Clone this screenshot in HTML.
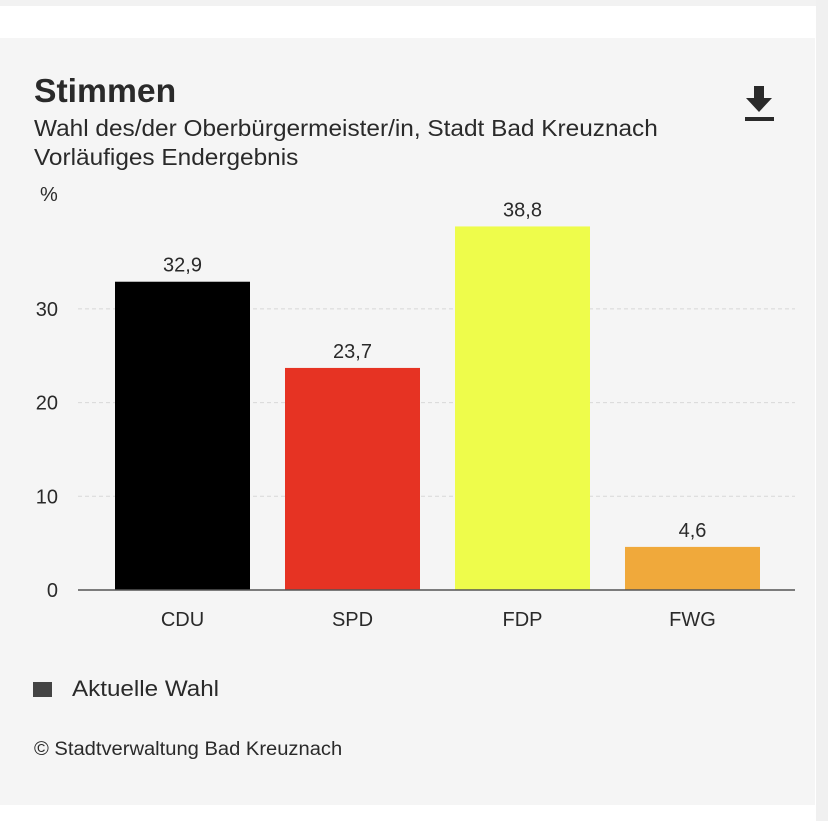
<!DOCTYPE html>
<html><head><meta charset="utf-8"><style>
body{margin:0;width:828px;height:821px;background:#fff;font-family:"Liberation Sans",sans-serif;position:relative;overflow:hidden;color:#222}
.abs{position:absolute;white-space:nowrap}
</style></head><body>
<div class="abs" style="left:0;top:0;width:828px;height:6px;background:#f2f2f2"></div>
<div class="abs" style="left:816px;top:0;width:12px;height:821px;background:#f0f0f0"></div>
<div class="abs" style="left:0;top:38px;width:815px;height:767px;background:#f5f5f5"></div>
<div class="abs" style="left:34px;top:72px;font-size:33px;font-weight:bold;color:#2a2a2a;transform:scaleX(1.02);transform-origin:left">Stimmen</div>
<div class="abs" style="left:34px;top:114px;font-size:23px;color:#2a2a2a;transform:scaleX(1.06);transform-origin:left;line-height:29px">Wahl des/der Oberbürgermeister/in, Stadt Bad Kreuznach<br>Vorläufiges Endergebnis</div>
<svg class="abs" style="left:744px;top:86px" width="32" height="36"><path d="M10 0h10v12h8l-13 14L2 12h8z" fill="#2a2a2a"/><rect x="1" y="31" width="29" height="4" fill="#2a2a2a"/></svg>
<svg id="chart" class="abs" style="left:0;top:0" width="815" height="660"></svg>
<div class="abs" style="left:33px;top:682px;width:19px;height:15px;background:#444"></div>
<div class="abs" style="left:72px;top:676px;font-size:22px;color:#2a2a2a;transform:scaleX(1.1);transform-origin:left">Aktuelle Wahl</div>
<div class="abs" style="left:34px;top:739px;font-size:19px;color:#2a2a2a;transform:scaleX(1.06);transform-origin:left">© Stadtverwaltung Bad Kreuznach</div>
<script>
const categories=["CDU","SPD","FDP","FWG"];
const values=[32.9,23.7,38.8,4.6];
const labels=["32,9","23,7","38,8","4,6"];
const colors=["#000000","#e63323","#eefc4b","#f0a93b"];
const ticks=[0,10,20,30];
const svg=document.getElementById('chart');const NS="http://www.w3.org/2000/svg";
const y0=590,pxPer=9.37;const y=v=>y0-v*pxPer;
const x=i=>115+i*170;const bw=135;
function mk(t,a){const e=document.createElementNS(NS,t);for(const k in a)e.setAttribute(k,a[k]);svg.appendChild(e);return e;}
const pct=mk('text',{x:40,y:201,'font-size':20,fill:'#2a2a2a'});pct.textContent='%';


ticks.forEach(t=>{
 if(t>0){const l=mk('line',{x1:78,x2:795,y1:y(t),y2:y(t),stroke:'#d8d8d8','stroke-dasharray':'4,3'});
 
 }
 const tx=mk('text',{x:58,y:y(t)+7,'font-size':20,fill:'#2a2a2a','text-anchor':'end'});tx.textContent=t;
 
 
});
categories.forEach((c,i)=>{
 const r=mk('rect',{x:x(i),y:y(values[i]),width:bw,height:values[i]*pxPer,fill:colors[i]});
 
 
 const v=mk('text',{x:x(i)+bw/2,y:y(values[i])-10,'font-size':20,fill:'#2a2a2a','text-anchor':'middle'});v.textContent=labels[i];
 
 
 const cl=mk('text',{x:x(i)+bw/2,y:626,'font-size':20,fill:'#2a2a2a','text-anchor':'middle'});cl.textContent=c;
 
 
});
const ax=mk('line',{x1:78,x2:795,y1:y0,y2:y0,stroke:'#555','stroke-width':1.5});


</script>
</body></html>
